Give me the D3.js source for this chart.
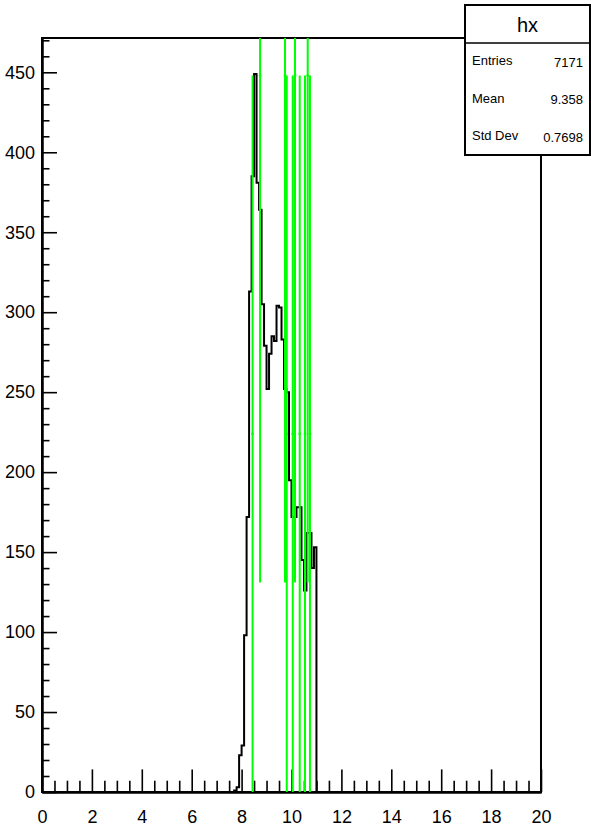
<!DOCTYPE html>
<html><head><meta charset="utf-8">
<script src="https://cdn.jsdelivr.net/npm/d3@7"></script>
<style>
body{margin:0;background:#fff}
svg{display:block}
text{font-family:"Liberation Sans",Arial,Helvetica,sans-serif}
</style>
</head><body>
<svg id="c" width="591" height="832"></svg>
<script>
// ---- data ----
const binLowEdges = [7.7,7.8,7.9,8.0,8.1,8.2,8.3,8.4,8.5,8.6,8.7,8.8,8.9,9.0,9.1,9.2,9.3,9.4,9.5,9.6,9.7,9.8,9.9,10.0,10.1,10.2,10.3,10.4,10.5,10.6,10.7,10.8,10.9];
const binCounts   = [1,3,23,29,98,172,313,385,449,381,364,305,279,252,274,285,282,304,303,283,252,250,195,172,172,178,178,145,126,162,162,140,153];
const binWidth = 0.1;

const errPointX  = [8.74, 9.74, 10.14, 10.65, 8.44, 9.81, 10.05, 10.33, 10.54, 10.74];
const errPointY  = [448, 448, 448, 448, 224, 224, 224, 224, 224, 224];
const errPointEY = [317, 317, 317, 317, 224, 224, 224, 224, 224, 224];
const errPointEX = [0.05,0.05,0.05,0.05,0.05,0.05,0.05,0.05,0.05,0.05];

const xTickLabels = [0,2,4,6,8,10,12,14,16,18,20];
const yTickLabels = [0,50,100,150,200,250,300,350,400,450];

const statsTitle = "hx";
const statsNames  = ["Entries","Mean","Std Dev"];
const statsValues = ["7171","9.358","0.7698"];

// ---- layout ----
const L = 42, R = 541, T = 38, B = 792;
const svg = d3.select("#c");
const x = d3.scaleLinear().domain([0,20]).range([L,R]);
const y = d3.scaleLinear().domain([0,471.45]).range([B,T]);

// clip
svg.append("defs").append("clipPath").attr("id","fr")
  .append("rect").attr("x",L).attr("y",T).attr("width",R-L).attr("height",B-T);

// frame
svg.append("rect").attr("x",L).attr("y",T).attr("width",R-L).attr("height",B-T)
  .attr("fill","none").attr("stroke","#000").attr("stroke-width",2);

// axes: minor ticks
const xMinor = d3.range(0,20.001,0.5).filter(v=>Math.abs(v/2-Math.round(v/2))>1e-6);
const yMinor = d3.range(0,471,10).filter(v=>v%50!==0);
const fs = 18;

const xAxMinor = svg.append("g").attr("transform",`translate(0,${B})`)
  .call(d3.axisBottom(x).tickValues(xMinor).tickSizeInner(-11.3).tickSizeOuter(0).tickFormat(""));
const xAx = svg.append("g").attr("transform",`translate(0,${B})`)
  .call(d3.axisBottom(x).tickValues(xTickLabels).tickSizeInner(-22.6).tickSizeOuter(0).tickPadding(18).tickFormat(d3.format("d")));
const yAxMinor = svg.append("g").attr("transform",`translate(${L},0)`)
  .call(d3.axisLeft(y).tickValues(yMinor).tickSizeInner(-7.5).tickSizeOuter(0).tickFormat(""));
const yAx = svg.append("g").attr("transform",`translate(${L},0)`)
  .call(d3.axisLeft(y).tickValues(yTickLabels).tickSizeInner(-15).tickSizeOuter(0).tickPadding(7).tickFormat(d3.format("d")));

[xAxMinor,xAx,yAxMinor,yAx].forEach(g=>{
  g.select(".domain").attr("stroke","#000").attr("stroke-width",2);
  g.selectAll(".tick line").attr("stroke","#000").attr("stroke-width",1.6);
  g.selectAll(".tick text").attr("font-size",fs).attr("fill","#000")
    .style("font-family",'"Liberation Sans",Arial,sans-serif');
});

// histogram step outline
const bins = binLowEdges.map((lo,i)=>({lo:lo,hi:lo+binWidth,c:binCounts[i]}));
let p = d3.path();
p.moveTo(x(0), y(0));
p.lineTo(x(bins[0].lo), y(0));
bins.forEach(b=>{ p.lineTo(x(b.lo), y(b.c)); p.lineTo(x(b.hi), y(b.c)); });
p.lineTo(x(bins[bins.length-1].hi), y(0));
p.lineTo(x(20), y(0));
svg.append("path").attr("d",p.toString()).attr("fill","none")
  .attr("stroke","#000").attr("stroke-width",2).attr("clip-path","url(#fr)");

// green error bars
const gE = svg.append("g").attr("clip-path","url(#fr)")
  .attr("stroke","#00ff00").attr("stroke-width",2).attr("fill","none");
errPointX.forEach((px,i)=>{
  const cy = errPointY[i], ey = errPointEY[i], ex = errPointEX[i];
  gE.append("line").attr("x1",x(px)).attr("x2",x(px))
    .attr("y1",y(Math.max(0,cy-ey))).attr("y2",y(cy+ey));
  gE.append("line").attr("x1",x(px-ex)).attr("x2",x(px+ex))
    .attr("y1",y(cy)).attr("y2",y(cy));
});

// stats box
const sb = {x0:465, y0:5, x1:590, y1:155, div:43};
svg.append("rect").attr("x",sb.x0).attr("y",sb.y0).attr("width",sb.x1-sb.x0).attr("height",sb.y1-sb.y0)
  .attr("fill","#fff").attr("stroke","#000").attr("stroke-width",2);
svg.append("line").attr("x1",sb.x0).attr("x2",sb.x1).attr("y1",sb.div).attr("y2",sb.div)
  .attr("stroke","#000").attr("stroke-width",1.5);
svg.append("text").attr("x",(sb.x0+sb.x1)/2).attr("y",31.5).attr("text-anchor","middle")
  .attr("font-size",20).text(statsTitle);
const rowY = [65, 102.5, 140];
statsNames.forEach((n,i)=>{
  svg.append("text").attr("x",472).attr("y",rowY[i]).attr("font-size",13).text(n);
  svg.append("text").attr("x",583).attr("y",rowY[i]+1.5).attr("text-anchor","end").attr("font-size",13).text(statsValues[i]);
});
</script>
</body></html>
